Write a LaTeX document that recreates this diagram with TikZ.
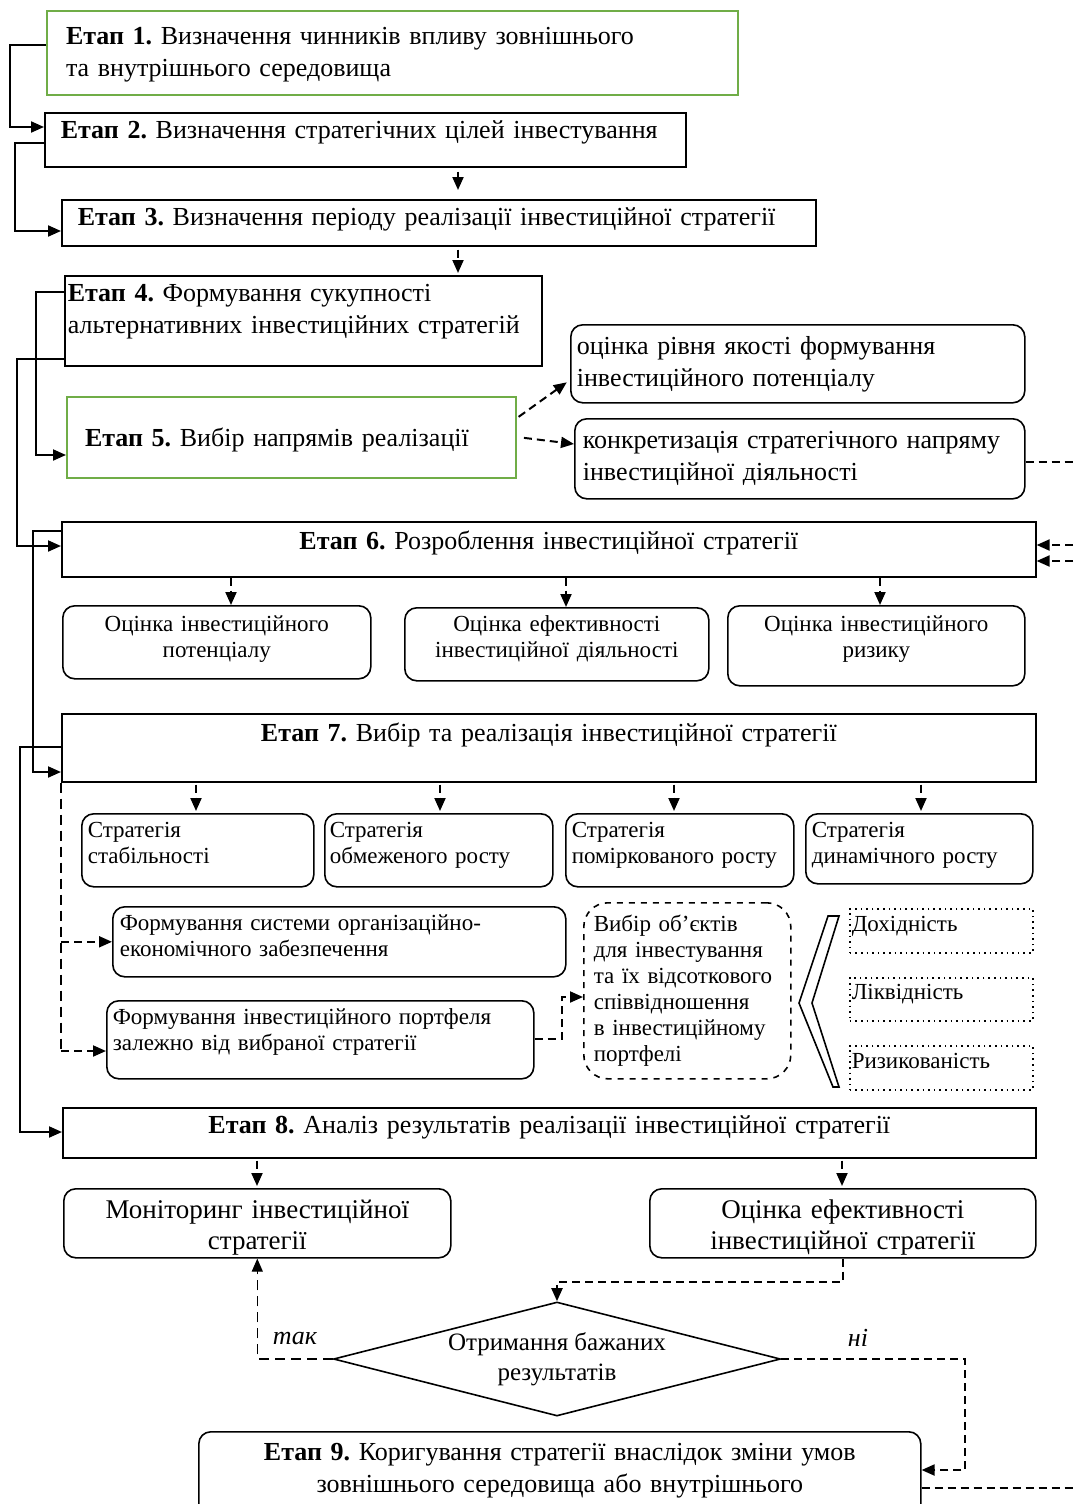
\documentclass[tikz,border=0pt]{standalone}
\usepackage{fontspec}
\setmainfont{Liberation Serif}
\usepackage{xcolor}
\usepackage{tikz}
\usetikzlibrary{positioning,arrows.meta,shapes.geometric}
\definecolor{stagegreen}{RGB}{112,173,71}
\frenchspacing
\tikzset{
  stage/.style={draw, line width=0.8pt, anchor=north west, inner ysep=0pt, align=left, font=\fontsize{13}{16}\selectfont},
  greenstage/.style={stage, draw=stagegreen, line width=1pt},
  rbox/.style={stage, rounded corners=6pt},
  smalltext/.style={font=\fontsize{11.5}{13}\selectfont},
  bigtext/.style={font=\fontsize{13.5}{15.5}\selectfont},
  dotbox/.style={stage, dotted, smalltext},
  conn/.style={line width=1pt},
  dconn/.style={line width=1pt, dash pattern=on 4pt off 2.5pt},
  thindash/.style={line width=0.6pt, dash pattern=on 5pt off 3pt}
}

\begin{document}
\begin{tikzpicture}[x=0.5pt, y=-0.5pt, >={Triangle[length=6.5pt,width=5.5pt]}]
\useasboundingbox (0,0) rectangle (1073,1504);
% stages 1-5
\node[greenstage, inner xsep=9.5pt, text width=326.5pt, text height=17pt, text depth=25pt] (e1) at (46,10) {\textbf{Етап 1.} Визначення чинників впливу зовнішнього\\та внутрішнього середовища};
\node[stage, inner xsep=8pt, text width=304.5pt, text height=13pt, text depth=14pt] (e2) at (44,112) {\textbf{Етап 2.} Визначення стратегічних цілей інвестування};
\node[stage, inner xsep=8pt, text width=361pt, text height=13pt, text depth=10pt] (e3) at (61,199) {\textbf{Етап 3.} Визначення періоду реалізації інвестиційної стратегії};
\node[stage, inner xsep=1.5pt, text width=235.5pt, text height=13pt, text depth=32pt] (e4) at (64,275) {\textbf{Етап 4.} Формування сукупності\\альтернативних інвестиційних стратегій};
\node[greenstage, inner xsep=9pt, text width=206.5pt, text height=24.5pt, text depth=16pt] (e5) at (66,396) {\textbf{Етап 5.} Вибір напрямів реалізації};
\node[rbox, inner xsep=3pt, text width=221pt, text height=15pt, text depth=24pt] (q1) at (570,324) {оцінка рівня якості формування\\інвестиційного потенціалу};
\node[rbox, inner xsep=4pt, text width=217pt, text height=15pt, text depth=25pt] (q2) at (574,418) {конкретизація стратегічного напряму\\інвестиційної діяльності};
% stage 6
\node[stage, align=center, inner xsep=3pt, text width=481pt, text height=14pt, text depth=13.5pt] (e6) at (61,521) {\textbf{Етап 6.} Розроблення інвестиційної стратегії};
\node[rbox, smalltext, align=center, inner xsep=3pt, text width=148pt, text height=13pt, text depth=23.5pt] (o1) at (62,605) {Оцінка інвестиційного\\потенціалу};
\node[rbox, smalltext, align=center, inner xsep=3pt, text width=146pt, text height=12pt, text depth=24.5pt] (o2) at (404,607) {Оцінка ефективності\\інвестиційної діяльності};
\node[rbox, smalltext, align=center, inner xsep=3pt, text width=142.5pt, text height=13pt, text depth=27pt] (o3) at (727,605) {Оцінка інвестиційного\\ризику};
% stage 7
\node[stage, align=center, inner xsep=3pt, text width=481pt, text height=14pt, text depth=20pt] (e7) at (61,713) {\textbf{Етап 7.} Вибір та реалізація інвестиційної стратегії};
\node[rbox, smalltext, inner xsep=3pt, text width=110pt, text height=12pt, text depth=24.5pt] (s1) at (81,813) {Стратегія\\стабільності};
\node[rbox, smalltext, inner xsep=2.5pt, text width=109pt, text height=12pt, text depth=24.5pt] (s2) at (324,813) {Стратегія\\обмеженого росту};
\node[rbox, smalltext, inner xsep=3pt, text width=108pt, text height=12pt, text depth=24.5pt] (s3) at (565,813) {Стратегія\\поміркованого росту};
\node[rbox, smalltext, inner xsep=3pt, text width=107.5pt, text height=12pt, text depth=23pt] (s4) at (805,813) {Стратегія\\динамічного росту};
\node[rbox, smalltext, inner xsep=3.5pt, text width=219.5pt, text height=12pt, text depth=23pt] (f1) at (112,906) {Формування системи організаційно-\\економічного забезпечення};
\node[rbox, smalltext, inner xsep=3pt, text width=207.5pt, text height=12pt, text depth=27pt] (f2) at (106,1000) {Формування інвестиційного портфеля\\залежно від вибраної стратегії};
\node[stage, dashed, rounded corners=12pt, smalltext, inner xsep=5pt, text width=93.5pt, text height=14.5pt, text depth=73.5pt] (v) at (583,902) {Вибір об’єктів\\для інвестування\\та їх відсоткового\\співвідношення\\в інвестиційному\\портфелі};
\node[dotbox, inner xsep=1pt, text width=89.5pt, text height=11.5pt, text depth=10.5pt] (d1) at (849,908) {Дохідність};
\node[dotbox, inner xsep=1pt, text width=89.5pt, text height=11pt, text depth=10.5pt] (d2) at (849,977) {Ліквідність};
\node[dotbox, inner xsep=1pt, text width=89.5pt, text height=11.5pt, text depth=10.5pt] (d3) at (849,1045) {Ризикованість};
\draw[line width=0.8pt] (828,916) -- (839,916) -- (812,1003) -- (839,1087) -- (833,1087) -- (799,1003) -- cycle;
% stage 8 and control
\node[stage, align=center, inner xsep=3pt, text width=480.5pt, text height=13pt, text depth=12pt] (e8) at (62,1107) {\textbf{Етап 8.} Аналіз результатів реалізації інвестиційної стратегії};
\node[rbox, bigtext, align=center, inner xsep=3pt, text width=187.5pt, text height=15pt, text depth=19.5pt] (m1) at (63,1188) {Моніторинг інвестиційної\\стратегії};
\node[rbox, bigtext, align=center, inner xsep=3pt, text width=187pt, text height=15pt, text depth=19.5pt] (m2) at (649,1188) {Оцінка ефективності\\інвестиційної стратегії};
\node[draw, diamond, aspect=3.9, minimum width=223.5pt, minimum height=57pt, inner sep=0pt, line width=0.8pt, align=center, font=\fontsize{12.5}{15}\selectfont] (dm) at (557,1359) {Отримання бажаних\\результатів};
\node[font=\fontsize{13}{16}\selectfont\itshape] (tak) at (295,1338) {так};
\node[font=\fontsize{13}{16}\selectfont\itshape] (ni) at (858,1338) {ні};
\node[rbox, align=center, inner xsep=3pt, text width=355pt, text height=14.5pt, text depth=30pt] (e9) at (198,1431) {\textbf{Етап 9.} Коригування стратегії внаслідок зміни умов\\зовнішнього середовища або внутрішнього};
% free ends at the right edge
\coordinate (rq) at (1073,462);
\coordinate (r6a) at (1073,545);
\coordinate (r6b) at (1073,561);
\coordinate (r9) at (1073,1488);
% left connectors
\draw[conn,->] (e1.west |- 0,45) -- ++(-36,0) |- (e2.west |- 0,127);
\draw[conn,->] (e2.west |- 0,143) -- ++(-29,0) |- (e3.west |- 0,231);
\draw[conn,->] (e4.west |- 0,292) -- ++(-28,0) |- (e5.west |- 0,455);
\draw[conn,->] (e4.west |- 0,359) -- ++(-47,0) |- (e6.west |- 0,546);
\draw[conn,->] (e6.west |- 0,531) -- ++(-28,0) |- (e7.west |- 0,772);
\draw[conn,->] (e7.west |- 0,747) -- ++(-41,0) |- (e8.west |- 0,1132);
% downward arrows
\draw[conn,->,shorten <=2pt,shorten >=4.5pt] (e2.south -| 458,0) -- (e3.north -| 458,0);
\draw[dconn,->,shorten <=1.5pt,shorten >=1pt] (e3.south -| 458,0) -- (e4.north -| 458,0);
\draw[dconn,->] (e6.south -| 231,0) -- (o1.north -| 231,0);
\draw[dconn,->] (e6.south -| 566,0) -- (o2.north -| 566,0);
\draw[dconn,->] (e6.south -| 880,0) -- (o3.north -| 880,0);
\draw[dconn,->,shorten <=1pt,shorten >=1pt] (e7.south -| 196,0) -- (s1.north -| 196,0);
\draw[dconn,->,shorten <=1pt,shorten >=1pt] (e7.south -| 440,0) -- (s2.north -| 440,0);
\draw[dconn,->,shorten <=1pt,shorten >=1pt] (e7.south -| 674,0) -- (s3.north -| 674,0);
\draw[dconn,->,shorten <=1pt,shorten >=1pt] (e7.south -| 921,0) -- (s4.north -| 921,0);
\draw[dconn,->,shorten <=1pt,shorten >=1pt] (e8.south -| 257,0) -- (m1.north -| 257,0);
\draw[dconn,->,shorten <=1pt,shorten >=1pt] (e8.south -| 842,0) -- (m2.north -| 842,0);
% dashed links
\draw[dconn,->,shorten <=1pt,shorten >=2pt] (e5.east |- 0,418) -- (q1.west |- 0,380);
\draw[dconn,->,shorten <=3.5pt] (e5.east |- 0,437) -- (q2.west |- 0,444);
\draw[dconn] (q2.east |- rq) -- (rq);
\draw[dconn,->] (r6a) -- (e6.east |- r6a);
\draw[dconn,->] (r6b) -- (e6.east |- r6b);
\draw[thindash] (e7.south west) -- (e7.south west |- 0,1051);
\draw[dconn,->] (e7.south west |- f1.west) -- (f1.west);
\draw[dconn,->] (e7.south west |- 0,1051) -- (f2.west |- 0,1051);
\draw[dconn,->] (f2.east |- 0,1039) -- ++(27,0) |- (v.west |- 0,997);
\draw[dconn,->] (m2.south) -- ++(0,23) -| (dm.north);
\draw[thindash,->] (dm.west) -| (m1.south);
\draw[dconn,->] (dm.east) -- ++(184,0) |- (e9.east |- 0,1470);
\draw[dconn] (e9.east |- r9) -- (r9);
\end{tikzpicture}
\end{document}
